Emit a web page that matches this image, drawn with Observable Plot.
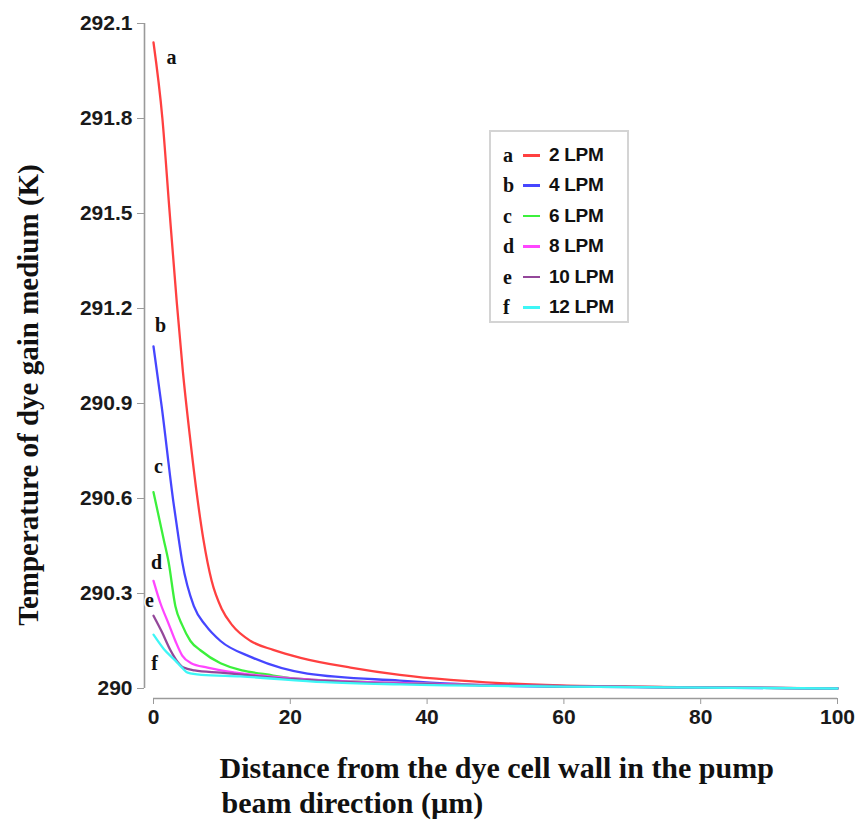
<!DOCTYPE html>
<html><head><meta charset="utf-8">
<script src="https://cdn.jsdelivr.net/npm/d3@7"></script>
<script src="https://cdn.jsdelivr.net/npm/@observablehq/plot@0.6"></script>
<style>
body{margin:0;background:#fff;}
#wrap{position:relative;width:862px;height:828px;overflow:hidden;}
#legend{position:absolute;left:489px;top:130px;width:136px;height:189px;border:2px solid #d4d4d4;background:#fff;}
.row{position:absolute;left:0;height:30px;width:136px;}
.row .ltr{position:absolute;left:12px;top:3px;font-family:"Liberation Serif",serif;font-weight:bold;font-size:20px;color:#111;line-height:24px;}
.row .sw{position:absolute;left:32px;top:14px;width:17px;height:2.5px;}
.row .lab{position:absolute;left:58px;top:3px;font-family:"Liberation Sans",Arial,sans-serif;font-weight:bold;font-size:19px;color:#111;line-height:24px;letter-spacing:-0.3px;}
</style>
</head><body>
<div id="wrap"><div id="legend"></div></div>
<script>
// ---- data ----
const letters = ["a","b","c","d","e","f"];
const flowRates = ["2 LPM","4 LPM","6 LPM","8 LPM","10 LPM","12 LPM"];
const colors = ["#ff4040","#4646ff","#3cf03c","#ff46ff","#94479a","#3ef6f6"];

const xA = [0, 1.3, 2.3, 3.4, 4.3, 5.3, 6.3, 7.3, 8.5, 10, 11.5, 14.2, 17.5, 21.5, 28.8, 36, 43.4, 50.7, 59.5, 70, 80, 90, 100];
const tA = [292.04, 291.80, 291.52, 291.22, 291.00, 290.80, 290.62, 290.47, 290.34, 290.25, 290.20, 290.15, 290.122, 290.097, 290.066, 290.043, 290.027, 290.017, 290.01, 290.006, 290.004, 290.002, 290.0];

const xB = [0, 1.2, 2.9, 3.7, 4.2, 5.9, 7.6, 9.8, 14.2, 22.5, 36, 50.7, 65, 80, 100];
const tB = [291.08, 290.89, 290.59, 290.47, 290.40, 290.26, 290.20, 290.15, 290.10, 290.047, 290.025, 290.009, 290.005, 290.003, 290.0];

const xC = [0, 1.5, 2.2, 3.2, 4.2, 5.4, 6.9, 9.8, 17.5, 21.5, 35, 50, 70, 100];
const tC = [290.62, 290.47, 290.40, 290.26, 290.20, 290.15, 290.12, 290.08, 290.041, 290.03, 290.018, 290.01, 290.005, 290.0];

const xD = [0, 1, 2.2, 3.2, 4.2, 5.5, 7.9, 12, 21.5, 40, 70, 100];
const tD = [290.34, 290.27, 290.205, 290.15, 290.104, 290.08, 290.066, 290.05, 290.03, 290.015, 290.005, 290.0];

const xE = [0, 1.2, 2.5, 3.5, 4.4, 6, 9.8, 20, 28.8, 50, 75, 100];
const tE = [290.23, 290.18, 290.12, 290.085, 290.066, 290.057, 290.05, 290.03, 290.02, 290.01, 290.004, 290.0];

const xF = [0, 1.5, 3.2, 4.2, 5.0, 7, 12.7, 25, 36, 60, 100];
const tF = [290.17, 290.125, 290.088, 290.065, 290.05, 290.043, 290.038, 290.02, 290.013, 290.006, 290.0];

const xTicks = [0, 20, 40, 60, 80, 100];
const yTicks = [290, 290.3, 290.6, 290.9, 291.2, 291.5, 291.8, 292.1];
const xLabel1 = "Distance from the dye cell wall in the pump";
const xLabel2 = "beam direction (\u00b5m)";
const yLabel = "Temperature of dye gain medium (K)";

// ---- build ----
const xs = [xA, xB, xC, xD, xE, xF];
const ts = [tA, tB, tC, tD, tE, tF];
const rows = [];
xs.forEach((xv, i) => xv.forEach((x, j) => rows.push({s: letters[i], x, t: ts[i][j]})));
const starts = letters.map((s, i) => ({s, x: xs[i][0], t: ts[i][0]}));
const labelOffsets = {a: [18, 15], b: [7, -21], c: [5, -26], d: [3, -18], e: [-4, -15], f: [1, 29]};

const serif = "Liberation Serif, Times New Roman, serif";
const sans = "Liberation Sans, Arial, sans-serif";

const plot = Plot.plot({
  width: 862, height: 828,
  marginLeft: 144, marginRight: 25, marginTop: 23, marginBottom: 130,
  x: {domain: [0, 100], insetLeft: 9},
  y: {domain: [290, 292.1], insetBottom: 10},
  color: {domain: letters, range: colors},
  style: {background: "#fff", fontFamily: sans},
  marks: [
    Plot.ruleX([0], {y1: 290, y2: 292.1, dx: -9, stroke: "#9a9a9a", strokeWidth: 1.6}),
    Plot.ruleY([290], {x1: 0, x2: 100, dy: 10, stroke: "#9a9a9a", strokeWidth: 1.6}),
    Plot.axisY({ticks: yTicks, tickFormat: d => String(+d.toFixed(1)), tickSize: 7, tickPadding: 5,
      stroke: "#9a9a9a", fill: "#1a1a1a", fontSize: 21, fontWeight: "bold", label: null}),
    Plot.axisX({ticks: xTicks, tickFormat: d => String(d), tickSize: 6, tickPadding: 5,
      stroke: "#9a9a9a", fill: "#1a1a1a", fontSize: 21, fontWeight: "bold", label: null}),
    ...letters.map(s => Plot.line(rows.filter(r => r.s === s), {x: "x", y: "t", stroke: "s", strokeWidth: 2.3, curve: "monotone-x"})),
    ...letters.map(s => Plot.text(starts.filter(r => r.s === s), {x: "x", y: "t", text: "s",
      dx: labelOffsets[s][0], dy: labelOffsets[s][1], fontFamily: serif, fontWeight: "bold", fontSize: 20,
      fill: "#111", stroke: "white", strokeWidth: 3})),
    Plot.text([yLabel], {frameAnchor: "left", textAnchor: "middle", lineAnchor: "middle", dx: -116, dy: 34, rotate: -90, fontFamily: serif, fontWeight: "bold", fontSize: 29, fill: "#111"}),
    Plot.text([xLabel1], {frameAnchor: "bottom-left", textAnchor: "start", lineAnchor: "middle", dx: 75, dy: 70, fontFamily: serif, fontWeight: "bold", fontSize: 30, fill: "#111"}),
    Plot.text([xLabel2], {frameAnchor: "bottom-left", textAnchor: "start", lineAnchor: "middle", dx: 77, dy: 105, fontFamily: serif, fontWeight: "bold", fontSize: 30, fill: "#111"})
  ]
});
document.getElementById("wrap").prepend(plot);

const legend = document.getElementById("legend");
letters.forEach((s, i) => {
  const row = document.createElement("div");
  row.className = "row";
  row.style.top = (8 + i * 30.4) + "px";
  row.innerHTML = `<span class="ltr">${s}</span><span class="sw" style="background:${colors[i]}"></span><span class="lab">${flowRates[i]}</span>`;
  legend.appendChild(row);
});
</script>
</body></html>
